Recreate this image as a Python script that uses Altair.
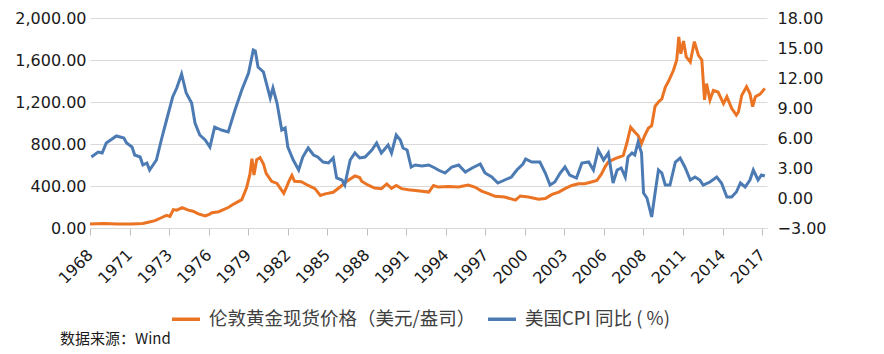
import altair as alt
import pandas as pd

GOLD_NAME = "伦敦黄金现货价格（美元/盎司）"
CPI_NAME = "美国CPI 同比 ( %)"
SOURCE = "数据来源：Wind"

X_LABELS = ["1968", "1971", "1973", "1976", "1979", "1982", "1985", "1988", "1991",
            "1994", "1997", "2000", "2003", "2006", "2008", "2011", "2014", "2017"]
LEFT_TICKS = [0, 400, 800, 1200, 1600, 2000]
RIGHT_TICKS = [-3, 0, 3, 6, 9, 12, 15, 18]

GOLD_T = [1968.0, 1968.5, 1969.0, 1969.5, 1970.0, 1970.5, 1971.0, 1971.5, 1971.9, 1972.3,
          1972.8, 1973.3, 1973.65, 1973.9, 1974.15, 1974.4, 1974.8, 1975.25, 1975.6, 1976.0,
          1976.5, 1976.8, 1977.0, 1977.5, 1978.2, 1978.7, 1979.2, 1979.55, 1979.8, 1979.95,
          1980.1, 1980.3, 1980.55, 1980.8, 1981.0, 1981.4, 1981.8, 1982.3, 1982.5, 1982.7,
          1982.9, 1983.1, 1983.6, 1984.1, 1984.6, 1985.0, 1985.35, 1985.95, 1986.45, 1986.9,
          1987.55, 1987.9, 1988.05, 1988.5, 1989.0, 1989.5, 1989.9, 1990.25, 1990.6, 1991.0,
          1991.5, 1992.0, 1992.5, 1993.0, 1993.35, 1993.7, 1994.45, 1995.2, 1995.9, 1996.4,
          1996.9, 1997.4, 1997.9, 1998.6, 1999.4, 1999.75, 2000.35, 2001.1, 2001.6, 2002.1,
          2002.6, 2003.05, 2003.55, 2004.05, 2004.5, 2005.0, 2005.4, 2005.75, 2006.0, 2006.25,
          2006.75, 2007.35, 2007.6, 2007.9, 2008.2, 2008.45, 2008.7, 2008.9, 2009.2, 2009.45,
          2009.7, 2009.95, 2010.2, 2010.45, 2010.7, 2011.05, 2011.3, 2011.45, 2011.6, 2011.8,
          2012.0, 2012.3, 2012.6, 2012.9, 2013.15, 2013.35, 2013.5, 2013.75, 2014.0, 2014.35,
          2014.75, 2015.0, 2015.35, 2015.7, 2015.85, 2016.1, 2016.45, 2016.7, 2016.9, 2017.1,
          2017.45, 2017.8]
GOLD_V = [38, 40, 42, 41, 37, 37, 38, 41, 43, 55,
          70, 100, 120, 110, 175, 170, 195, 170, 160, 135,
          115, 130, 145, 155, 195, 235, 270, 380, 510, 660,
          505, 650, 670, 610, 520, 445, 425, 330, 390, 450,
          500, 445, 440, 405, 375, 310, 325, 340, 390, 440,
          495, 480, 445, 410, 380, 375, 420, 378, 405, 375,
          365, 358, 350, 342, 405, 390, 395, 390, 410, 390,
          352, 328, 302, 295, 265, 305, 295, 273, 280, 320,
          342, 375, 405, 422, 422, 438, 452, 515, 580, 630,
          660, 690, 800, 960, 915, 880, 805, 870, 950, 975,
          1160, 1200, 1230, 1340, 1400, 1500, 1600, 1820, 1660, 1780,
          1630, 1580, 1775, 1645, 1600, 1220, 1375, 1220, 1310, 1295,
          1185, 1250, 1140, 1075, 1105, 1265, 1345, 1280, 1155, 1250,
          1275, 1330]

CPI_T = [1968.1, 1968.6, 1968.9, 1969.2, 1969.95, 1970.5, 1970.7, 1971.1, 1971.3, 1971.7,
         1971.9, 1972.2, 1972.4, 1972.9, 1973.3, 1973.65, 1974.1, 1974.4, 1974.76, 1975.1,
         1975.5, 1975.75, 1976.1, 1976.5, 1976.85, 1977.2, 1977.7, 1978.2, 1978.7, 1979.2,
         1979.7, 1980.05, 1980.2, 1980.4, 1980.8, 1981.3, 1981.5, 1981.8, 1982.15, 1982.4,
         1982.6, 1983.0, 1983.4, 1983.7, 1984.1, 1984.5, 1984.8, 1985.2, 1985.6, 1985.95,
         1986.2, 1986.6, 1986.8, 1987.2, 1987.55, 1987.9, 1988.3, 1988.8, 1989.15, 1989.5,
         1990.0, 1990.25, 1990.6, 1990.9, 1991.1, 1991.4, 1991.7, 1992.0, 1992.5, 1993.0,
         1993.45, 1993.7, 1994.2, 1994.7, 1995.2, 1995.7, 1996.2, 1996.8, 1997.15, 1997.65,
         1998.1, 1998.6, 1999.1, 1999.5, 1999.95, 2000.15, 2000.6, 2001.2, 2001.6, 2001.95,
         2002.3, 2002.7, 2003.05, 2003.4, 2003.9, 2004.3, 2004.8, 2005.15, 2005.5, 2005.9,
         2006.25, 2006.6, 2006.9, 2007.2, 2007.5, 2007.7, 2008.0, 2008.2, 2008.45, 2008.7,
         2008.85, 2009.1, 2009.45, 2009.7, 2009.95, 2010.2, 2010.45, 2010.8, 2011.2, 2011.55,
         2011.9, 2012.3, 2012.65, 2013.0, 2013.25, 2013.75, 2014.25, 2014.6, 2015.0, 2015.35,
         2015.7, 2016.0, 2016.35, 2016.7, 2016.95, 2017.3, 2017.55, 2017.8]
CPI_V = [4.1, 4.6, 4.5, 5.5, 6.2, 6.0, 5.5, 5.1, 4.3, 4.1,
         3.3, 3.5, 2.8, 3.8, 6.0, 7.8, 10.1, 11.0, 12.4, 10.5,
         9.5, 7.5, 6.3, 5.8, 5.1, 7.1, 6.8, 6.6, 8.8, 10.8,
         12.5, 14.8, 14.7, 13.1, 12.6, 10.0, 11.0, 9.5, 6.8, 7.0,
         5.1, 3.8, 2.8, 4.1, 5.0, 4.3, 4.1, 3.6, 3.5, 4.0,
         2.0, 1.8, 1.3, 3.8, 4.5, 4.0, 4.1, 4.8, 5.5, 4.5,
         5.3, 4.5, 6.3, 5.8, 5.0, 4.8, 3.1, 3.3, 3.2, 3.3,
         3.0, 2.8, 2.5, 3.1, 3.3, 2.6, 3.0, 3.4, 2.5, 2.1,
         1.5, 1.8, 2.1, 2.8, 3.4, 3.9, 3.6, 3.6, 2.5, 1.3,
         1.6, 2.5, 3.1, 2.3, 2.0, 3.5, 3.6, 2.8, 4.8, 3.8,
         4.5, 1.5, 2.8, 3.0, 2.1, 4.1, 4.5, 4.3, 5.6, 4.5,
         0.5, 0.0, -1.9, 0.5, 2.8, 2.5, 1.3, 1.3, 3.6, 4.0,
         3.1, 1.8, 2.1, 1.8, 1.3, 1.6, 2.1, 1.5, 0.1, 0.1,
         0.6, 1.5, 1.1, 1.8, 2.8, 1.8, 2.3, 2.2]

ORANGE = "#EB7424"
BLUE = "#4C7BB4"
TEXT = "#1a1a1a"

X0, X1, STEP = 1968.0, 2017.96, 2.9173
tick_vals = [round(X0 + i * STEP, 4) for i in range(len(X_LABELS))]
label_expr = ("[" + ",".join("'" + s + "'" for s in X_LABELS) + "]"
              "[round((datum.value - 1968) / 2.9173)]")

gold_df = pd.DataFrame({"t": GOLD_T, "v": GOLD_V, "series": GOLD_NAME})
cpi_df = pd.DataFrame({"t": CPI_T, "v": CPI_V, "series": CPI_NAME})

x_enc = alt.X(
    "t:Q",
    scale=alt.Scale(domain=[X0, X1], nice=False, zero=False),
    axis=alt.Axis(
        values=tick_vals, labelExpr=label_expr, title=None, grid=False,
        labelAngle=-45, labelAlign="right", labelBaseline="middle",
        labelFont="DejaVu Sans", labelFontSize=16, labelColor=TEXT,
        labelPadding=17, tickSize=7, tickColor="#bfbfbf",
        domainColor="#d9d9d9", labelOverlap=False, labelFlush=False,
    ),
)

color_enc = alt.Color(
    "series:N",
    scale=alt.Scale(domain=[GOLD_NAME, CPI_NAME], range=[ORANGE, BLUE]),
    legend=alt.Legend(
        title=None, orient="none", direction="horizontal",
        legendX=80, legendY=285, symbolType="stroke", symbolSize=784,
        symbolStrokeWidth=3.5, labelFont="Noto Sans CJK SC", labelFontSize=18.5,
        labelColor="#404040", labelOffset=7, columnPadding=5, padding=0,
        labelLimit=400,
    ),
)

gold = alt.Chart(gold_df).mark_line(strokeWidth=3).encode(
    x=x_enc,
    y=alt.Y(
        "v:Q",
        scale=alt.Scale(domain=[0, 2000], nice=False),
        axis=alt.Axis(
            values=LEFT_TICKS, format=",.2f", orient="left", title=None,
            grid=True, gridColor="#d9d9d9", domain=False, ticks=False,
            labelFont="DejaVu Sans", labelFontSize=16, labelColor=TEXT,
            labelPadding=4,
        ),
    ),
    color=color_enc,
)

cpi = alt.Chart(cpi_df).mark_line(strokeWidth=3).encode(
    x=x_enc,
    y=alt.Y(
        "v:Q",
        scale=alt.Scale(domain=[-3, 18], nice=False, zero=False),
        axis=alt.Axis(
            values=RIGHT_TICKS, format=".2f", orient="right", title=None,
            grid=False, domain=False, ticks=False,
            labelFont="DejaVu Sans", labelFontSize=16, labelColor=TEXT,
            labelPadding=10,
        ),
    ),
    color=color_enc,
)

source = alt.Chart(pd.DataFrame({"s": [SOURCE]})).mark_text(
    align="left", baseline="alphabetic", font="Noto Sans CJK SC",
    fontSize=15, color=TEXT,
).encode(x=alt.value(-30), y=alt.value(326), text="s:N")

chart = (
    alt.layer(gold, cpi, source)
    .resolve_scale(y="independent")
    .properties(
        width=677, height=210,
        autosize=alt.AutoSizeParams(type="none"),
        padding={"left": 90, "top": 18, "right": 117, "bottom": 126},
        background="white",
    )
    .configure_view(stroke=None)
)

chart.save("out.html", embed_options={"renderer": "svg", "actions": False})
